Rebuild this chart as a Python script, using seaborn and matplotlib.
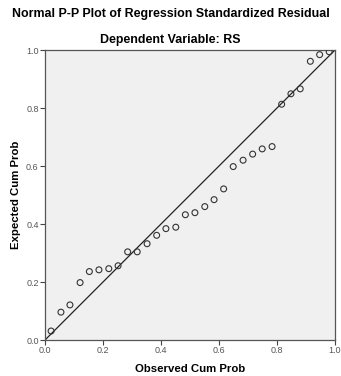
import matplotlib
matplotlib.use("Agg")
import matplotlib.pyplot as plt
import seaborn as sns
import pandas as pd

# observed vs expected cumulative probabilities
observed = [0.021, 0.055, 0.086, 0.121, 0.153, 0.186, 0.220, 0.252, 0.285, 0.318,
            0.352, 0.385, 0.417, 0.451, 0.484, 0.517, 0.551, 0.583, 0.616, 0.649,
            0.683, 0.716, 0.749, 0.783, 0.816, 0.848, 0.880, 0.915, 0.947, 0.980]
expected = [0.031, 0.096, 0.121, 0.198, 0.236, 0.242, 0.246, 0.256, 0.304, 0.304,
            0.332, 0.361, 0.384, 0.389, 0.432, 0.439, 0.460, 0.484, 0.521, 0.598,
            0.620, 0.641, 0.659, 0.667, 0.813, 0.849, 0.866, 0.961, 0.984, 0.994]
diag = [0.0, 1.0]
ticks = [0.0, 0.2, 0.4, 0.6, 0.8, 1.0]
tick_labels = ["0.0", "0.2", "0.4", "0.6", "0.8", "1.0"]

df = pd.DataFrame({"obs": observed, "exp": expected})

sns.set_style("white")
plt.rcParams["font.family"] = ["Liberation Sans", "DejaVu Sans"]

fig = plt.figure(figsize=(3.41, 3.76), dpi=100)
ax = fig.add_axes([45 / 341, 36 / 376, 290 / 341, 290 / 376])
ax.set_facecolor("#f0f0f0")

sns.lineplot(x=diag, y=diag, ax=ax, color="#222222", linewidth=0.9)
sns.scatterplot(data=df, x="obs", y="exp", ax=ax, marker="o", s=18,
                facecolor="none", edgecolor="#333333", linewidth=0.8, zorder=3)

ax.set_xlim(0, 1)
ax.set_ylim(0, 1)
ax.set_xticks(ticks)
ax.set_xticklabels(tick_labels)
ax.set_yticks(ticks)
ax.set_yticklabels(tick_labels)
ax.tick_params(axis="both", direction="out", length=3.5, width=0.8, color="#444444",
               labelsize=6.5, labelcolor="#555555", pad=1.0)
ax.tick_params(bottom=True, left=True)
for sp in ax.spines.values():
    sp.set_color("#555555")
    sp.set_linewidth(0.9)

ax.set_xlabel("Observed Cum Prob", fontsize=8.2, fontweight="bold", labelpad=6,
              color="black")
ax.set_ylabel("Expected Cum Prob", fontsize=8.2, fontweight="bold", labelpad=4,
              color="black")

fig.text(0.5, 1 - 14 / 376, "Normal P-P Plot of Regression Standardized Residual",
         ha="center", va="center", fontsize=8.9, fontweight="bold", color="black")
fig.text(0.5, 1 - 40 / 376, "Dependent Variable: RS",
         ha="center", va="center", fontsize=8.9, fontweight="bold", color="black")

fig.savefig("out.png", dpi=100)
